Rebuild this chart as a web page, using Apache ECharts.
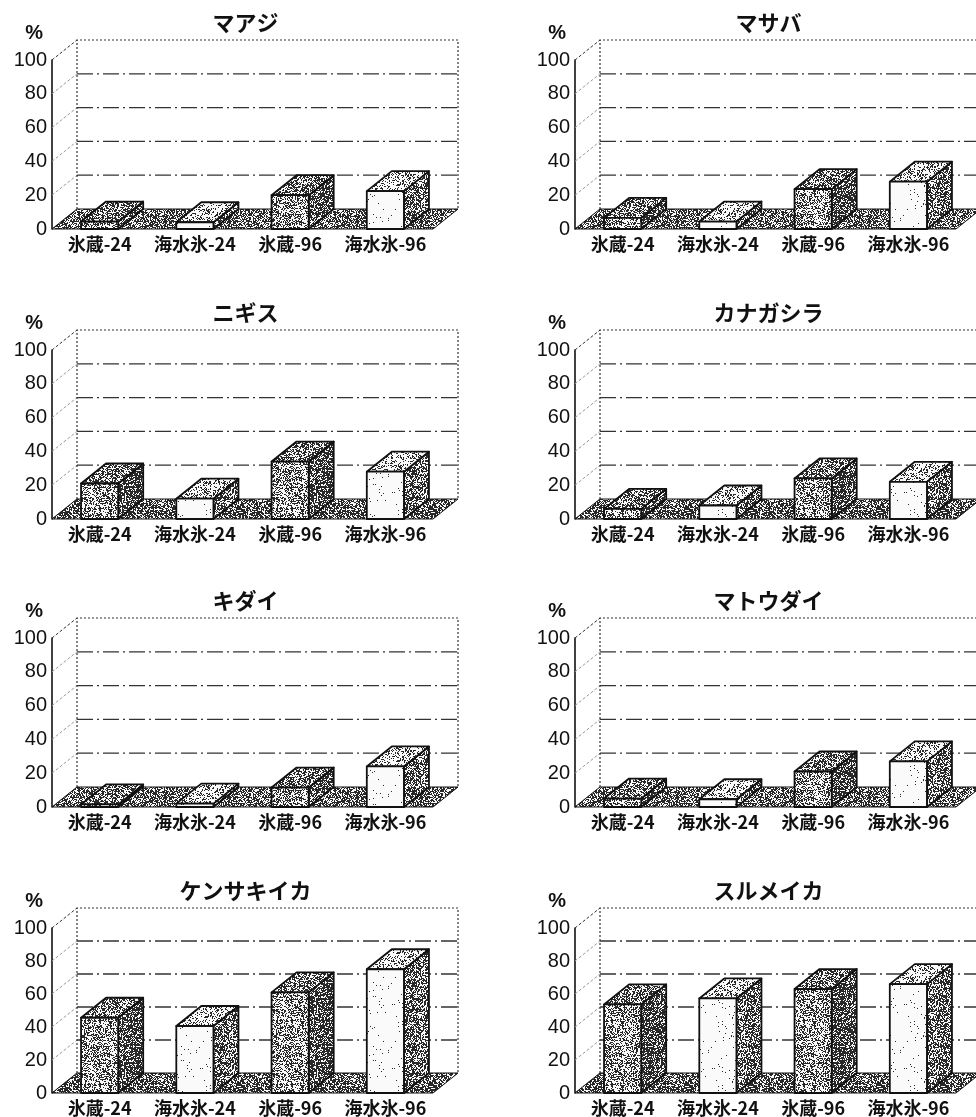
<!DOCTYPE html>
<html>
<head>
<meta charset="utf-8">
<script src="https://cdn.jsdelivr.net/npm/echarts@6/dist/echarts.min.js"></script>
<style>
  html, body { margin: 0; padding: 0; background: #fff; }
  #chart { width: 976px; height: 1117px; }
</style>
</head>
<body>
<div id="chart"></div>
<script>
// categories & values (% per storage condition)
const categories = ['氷蔵-24', '海水氷-24', '氷蔵-96', '海水氷-96'];
const panelTitles = ['マアジ', 'マサバ', 'ニギス', 'カナガシラ', 'キダイ', 'マトウダイ', 'ケンサキイカ', 'スルメイカ'];

const maaji = [4.4, 4, 20, 22.4];
const masaba = [6.6, 4.4, 23.6, 28];
const nigisu = [21, 12, 34, 28];
const kanagashira = [6, 8, 24, 22];
const kidai = [1.5, 2, 11.5, 24];
const matoudai = [5, 4.6, 21, 27];
const kensakiika = [45.6, 40.6, 61, 75];
const surumeika = [53.7, 57.3, 63, 66];

const panelValues = [maaji, masaba, nigisu, kanagashira, kidai, matoudai, kensakiika, surumeika];
const wallLevels = [20, 40, 60, 80];
const sideLevels = [0, 20, 40, 60, 80, 100];

// layout
const COL_LEFT = [52, 575];
const ROW_TOP = [60, 350, 638, 928];
const PLOT_W = 381, PLOT_H = 169;
const DX = 25, DY = 20;
const FONT_JP = '"Noto Sans CJK JP", sans-serif';
const FONT_NUM = '"Liberation Sans", Arial, sans-serif';

// printed-stipple texture (deterministic hash, just for looks)
function stipple(density, seed) {
  const n = 64;
  const c = document.createElement('canvas');
  c.width = n; c.height = n;
  const ctx = c.getContext('2d');
  const img = ctx.createImageData(n, n);
  for (let y = 0; y < n; y++) {
    for (let x = 0; x < n; x++) {
      let h = Math.sin((x + seed * 7) * 12.9898 + (y + seed * 13) * 78.233) * 43758.5453;
      h -= Math.floor(h);
      const v = h < density ? 40 : 250;
      const i = (y * n + x) * 4;
      img.data[i] = img.data[i + 1] = img.data[i + 2] = v;
      img.data[i + 3] = 255;
    }
  }
  ctx.putImageData(img, 0, 0);
  return { image: c, repeat: 'repeat' };
}

const TEX = {
  floor: stipple(0.62, 1),
  darkFront: stipple(0.45, 2),
  darkTop: stipple(0.55, 3),
  darkSide: stipple(0.72, 4),
  whiteFront: stipple(0.02, 5),
  whiteTop: stipple(0.3, 6),
  whiteSide: stipple(0.58, 7),
};

function renderFrame(params, api) {
  const cs = params.coordSys;
  const x0 = cs.x, x1 = cs.x + cs.width;
  const yb = api.coord([0, 0])[1];
  const yt = api.coord([0, 100])[1];
  const kids = [];

  // side wall diagonals
  sideLevels.forEach(v => {
    const y = api.coord([0, v])[1];
    kids.push({
      type: 'line',
      shape: { x1: x0, y1: y, x2: x0 + DX, y2: y - DY },
      style: { stroke: v === 100 ? '#333' : '#999', lineWidth: 1, lineDash: [3, 2] },
    });
  });

  // back wall grid lines (dash-dot)
  wallLevels.forEach(v => {
    const y = api.coord([0, v])[1] - DY;
    kids.push({
      type: 'line',
      shape: { x1: x0 + DX, y1: y, x2: x1 + DX, y2: y },
      style: { stroke: '#333', lineWidth: 1.3, lineDash: [16, 4, 2, 4] },
    });
  });

  // back wall outline
  kids.push({
    type: 'polyline',
    shape: { points: [[x0 + DX, yb - DY], [x0 + DX, yt - DY], [x1 + DX, yt - DY], [x1 + DX, yb - DY]] },
    style: { fill: null, stroke: '#333', lineWidth: 1.2, lineDash: [2, 2] },
  });

  // floor
  kids.push({
    type: 'polygon',
    shape: { points: [[x0, yb], [x1, yb], [x1 + DX, yb - DY], [x0 + DX, yb - DY]] },
    style: { fill: TEX.floor, stroke: '#111', lineWidth: 1 },
  });

  return { type: 'group', children: kids };
}

function renderBar(params, api) {
  const idx = api.value(0);
  const top = api.coord([idx, api.value(1)]);
  const base = api.coord([idx, 0]);
  const bw = api.size([1, 0])[0] * 0.39;
  const xl = top[0] - bw / 2, xr = top[0] + bw / 2;
  const yt = top[1], yb = base[1];
  const white = idx % 2 === 1;
  const line = { stroke: '#111', lineWidth: 1.8, lineJoin: 'round' };
  return {
    type: 'group',
    children: [
      {
        type: 'polygon',
        shape: { points: [[xr, yt], [xr + DX, yt - DY], [xr + DX, yb - DY], [xr, yb]] },
        style: Object.assign({ fill: white ? TEX.whiteSide : TEX.darkSide }, line),
      },
      {
        type: 'polygon',
        shape: { points: [[xl, yt], [xr, yt], [xr + DX, yt - DY], [xl + DX, yt - DY]] },
        style: Object.assign({ fill: white ? TEX.whiteTop : TEX.darkTop }, line),
      },
      {
        type: 'rect',
        shape: { x: xl, y: yt, width: bw, height: yb - yt },
        style: Object.assign({ fill: white ? TEX.whiteFront : TEX.darkFront }, line),
      },
    ],
  };
}

const grids = [], xAxes = [], yAxes = [], series = [], graphics = [];

panelTitles.forEach((name, i) => {
  const col = i % 2, row = Math.floor(i / 2);
  const left = COL_LEFT[col], top = ROW_TOP[row];

  grids.push({ left, top, width: PLOT_W, height: PLOT_H });

  xAxes.push({
    type: 'category',
    gridIndex: i,
    data: categories,
    axisLine: { show: false },
    axisTick: { show: false },
    splitLine: { show: false },
    axisLabel: { interval: 0, margin: 6, fontSize: 18, fontWeight: 'bold', color: '#111', fontFamily: FONT_JP },
  });

  yAxes.push({
    type: 'value',
    gridIndex: i,
    min: 0,
    max: 100,
    interval: 20,
    axisLine: { show: true, lineStyle: { color: '#111', width: 1.6 } },
    axisTick: { show: false },
    splitLine: { show: false },
    axisLabel: { margin: 5, fontSize: 20, color: '#111', fontFamily: FONT_NUM },
  });

  series.push({
    type: 'custom',
    xAxisIndex: i,
    yAxisIndex: i,
    data: [[0, 0]],
    renderItem: renderFrame,
    clip: false,
    silent: true,
    z: 1,
  });

  series.push({
    name,
    type: 'custom',
    xAxisIndex: i,
    yAxisIndex: i,
    data: panelValues[i].map((v, k) => [k, v]),
    renderItem: renderBar,
    clip: false,
    z: 2,
  });

  graphics.push({
    type: 'text',
    x: left + PLOT_W / 2 + 3,
    y: top - 37,
    style: { text: name, align: 'center', verticalAlign: 'middle', fontSize: 22, fontWeight: 'bold', fontFamily: FONT_JP, fill: '#111' },
  });
  graphics.push({
    type: 'text',
    x: left - 9,
    y: top - 27,
    style: { text: '%', align: 'right', verticalAlign: 'middle', fontSize: 20, fontWeight: 'bold', fontFamily: FONT_NUM, fill: '#111' },
  });
});

const chart = echarts.init(document.getElementById('chart'));
chart.setOption({
  backgroundColor: '#fff',
  animation: false,
  grid: grids,
  xAxis: xAxes,
  yAxis: yAxes,
  graphic: graphics,
  series,
});
</script>
</body>
</html>
